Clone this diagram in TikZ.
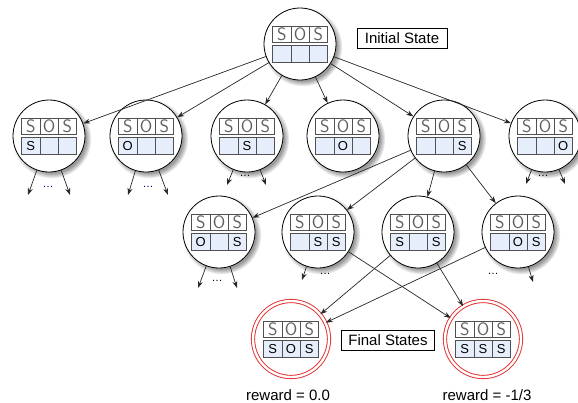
\documentclass[tikz,border=0pt]{standalone}
\usepackage{fontspec}
\setmainfont{Liberation Sans}
\usepackage{xcolor}
\usetikzlibrary{positioning,shadows,arrows.meta}

\definecolor{cellblue}{RGB}{230,238,252}
\definecolor{cellline}{RGB}{80,80,80}
\definecolor{handgray}{RGB}{95,95,95}
\definecolor{finalred}{RGB}{225,40,40}

% one game state: circle with the SOS board inside
\newcommand{\sosstate}[6][state]{%
  \node[#1] (#2) at (#3) {};
  \node[topcell] (#2-t2) at ([yshift=9.75pt]#2.center) {O};
  \node[topcell, left=0pt of #2-t2]  (#2-t1) {S};
  \node[topcell, right=0pt of #2-t2] (#2-t3) {S};
  \node[botcell] (#2-b2) at ([yshift=-9.75pt]#2.center) {#5};
  \node[botcell, left=0pt of #2-b2]  (#2-b1) {#4};
  \node[botcell, right=0pt of #2-b2] (#2-b3) {#6};
}

\begin{document}
\begin{tikzpicture}[x=1pt, y=-1pt,
    state/.style={circle, draw=black, line width=0.8pt, fill=white, minimum size=72pt, inner sep=0pt,
        circular drop shadow={shadow xshift=2.5pt, shadow yshift=-2.5pt, shadow scale=1.1, opacity=0.8}},
    final/.style={circle, draw=finalred, double=white, double distance=2.4pt, line width=0.9pt,
        fill=white, minimum size=76pt, inner sep=0pt},
    topcell/.style={rectangle, draw=cellline, fill=white, line width=0.7pt, outer sep=0pt, inner sep=0pt,
        minimum width=18.2pt, minimum height=16.5pt, text=handgray, font=\sffamily\fontsize{18}{18}\selectfont},
    botcell/.style={rectangle, draw=cellline, fill=cellblue, line width=0.7pt, outer sep=0pt, inner sep=0pt,
        minimum width=18.2pt, minimum height=16.5pt, font=\fontsize{13}{13}\selectfont},
    tag/.style={rectangle, draw=black, line width=0.6pt, inner sep=0pt, minimum height=20pt, font=\fontsize{15}{18}\selectfont},
    reward/.style={font=\fontsize{15}{18}\selectfont},
    more/.style={inner sep=0pt, font=\fontsize{11}{11}\selectfont},
    arrow/.style={->, line width=0.7pt, draw=black!85, >={Stealth[length=7pt, width=5pt]}}
]
\useasboundingbox (0,0) rectangle (578,402);

% root and first moves
\sosstate{init}{300,44}{}{}{}
\sosstate{s1}{49,136}{S}{}{}
\sosstate{s2}{146,136}{O}{}{}
\sosstate{s3}{247,136}{}{S}{}
\sosstate{s4}{343,136}{}{O}{}
\sosstate{s5}{444,136}{}{}{S}
\sosstate{s6}{545,136}{}{}{O}

% second moves
\sosstate{m1}{219,232}{O}{}{S}
\sosstate{m2}{318,232}{}{S}{S}
\sosstate{m3}{418,232}{S}{}{S}
\sosstate{m4}{518,232}{}{O}{S}

% terminal boards
\sosstate[final]{fl}{291,339}{S}{O}{S}
\sosstate[final]{fr}{483,339}{S}{S}{S}

\node[tag, minimum width=90pt] (initlbl) at (402,38) {Initial State};
\node[tag, minimum width=93pt] (finallbl) at (388,340) {Final States};
\node[reward] (rl) at (288,395) {reward = 0.0};
\node[reward] (rr) at (487,395) {reward = -1/3};

\foreach \n in {s1,s2,s3,s4,s5,s6}
  \draw[arrow] (init) -- (\n);
\foreach \n in {m1,m2,m3,m4}
  \draw[arrow] (s5) -- (\n);
\draw[arrow] (m2) -- (fr);
\draw[arrow] (m3) -- (fl);
\draw[arrow] (m3) -- (fr);
\draw[arrow] (m4) -- (fl);

% unexpanded branches
\coordinate (s1-l) at (28,195);  \coordinate (s1-r) at (70,195);
\coordinate (s2-l) at (128,195); \coordinate (s2-r) at (168,195);
\coordinate (s3-l) at (227,185); \coordinate (s3-r) at (266,185);
\coordinate (s6-l) at (526,184); \coordinate (s6-r) at (565,184);
\coordinate (m1-l) at (198,288); \coordinate (m1-r) at (237,288);
\coordinate (m2-l) at (302,280);
\coordinate (m4-r) at (533,282);
\foreach \n in {s1,s2,s3,s6,m1} {
  \draw[arrow] (\n) -- (\n-l);
  \draw[arrow] (\n) -- (\n-r);
}
\draw[arrow] (m2) -- (m2-l);
\draw[arrow] (m4) -- (m4-r);

\node[more, text=blue!45!black] (s1-dots) at (48,187) {\ldots};
\node[more, text=blue!45!black] (s2-dots) at (148,187) {\ldots};
\node[more] (s3-dots) at (245,176) {\ldots};
\node[more] (s6-dots) at (543,176) {\ldots};
\node[more] (m1-dots) at (217,281) {\ldots};
\node[more] (m2-dots) at (325,274) {\ldots};
\node[more] (m4-dots) at (493,274) {\ldots};
\end{tikzpicture}
\end{document}
